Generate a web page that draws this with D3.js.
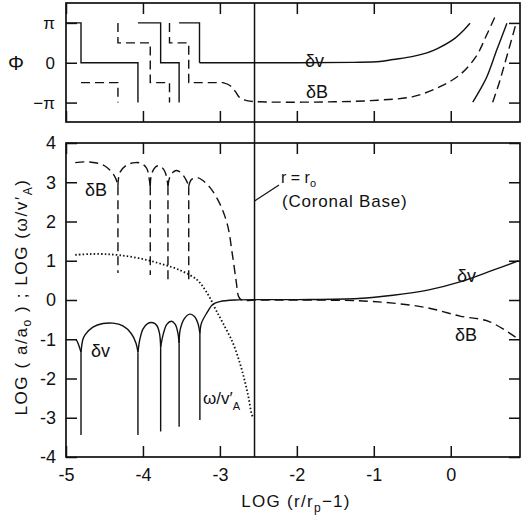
<!DOCTYPE html>
<html>
<head>
<meta charset="utf-8">
<script src="https://cdn.jsdelivr.net/npm/d3@7"></script>
<style>
  body { margin: 0; background: #fff; }
  svg { display: block; }
  text { font-family: "Liberation Sans", Arial, sans-serif; fill: #111; }
</style>
</head>
<body>
<svg id="chart"></svg>
<script>
const width = 521, height = 524;

// axes
const xTicks = [-5, -4, -3, -2, -1, 0];
const yTicks = [-4, -3, -2, -1, 0, 1, 2, 3, 4];
const phaseTicks = [-1, 0, 1];            // in units of pi
const phaseLabels = ["\u2212\u03c0", "0", "\u03c0"];
const coronalBase = -2.55;                // LOG(r0/rp - 1)

// lower panel, LOG(a/a0) for dv (solid): arches between nodes
const dvArches = [
  [[-4.87, -1.0], [-4.84, -1.12], [-4.805, -1.33]],
  [[-4.805, -1.33], [-4.78, -1.0], [-4.75, -0.88], [-4.65, -0.69], [-4.52, -0.6], [-4.39, -0.59], [-4.26, -0.66], [-4.15, -0.86], [-4.09, -1.1], [-4.065, -1.33]],
  [[-4.065, -1.33], [-4.04, -1.0], [-4.0, -0.74], [-3.94, -0.6], [-3.87, -0.58], [-3.82, -0.65], [-3.785, -0.85], [-3.77, -1.2]],
  [[-3.77, -1.2], [-3.74, -0.9], [-3.69, -0.62], [-3.63, -0.54], [-3.58, -0.62], [-3.545, -0.85], [-3.53, -1.1]],
  [[-3.53, -1.1], [-3.515, -0.75], [-3.46, -0.47], [-3.39, -0.36], [-3.33, -0.42], [-3.285, -0.6], [-3.26, -0.85]],
  [[-3.26, -0.85], [-3.24, -0.59], [-3.17, -0.33], [-3.09, -0.11], [-3.0, -0.04], [-2.8, 0], [-2.0, 0.01], [-1.2, 0.04], [-0.75, 0.12], [-0.3, 0.25], [0.12, 0.46], [0.55, 0.76], [0.88, 1.0]]
];
// node spikes: [x, cusp, bottom]
const dvNodes = [[-4.805, -1.33, -3.44], [-4.065, -1.33, -3.44], [-3.77, -1.2, -3.35], [-3.53, -1.1, -3.23], [-3.26, -0.85, -3.06]];

// lower panel, LOG(a/a0) for dB (dashed)
const dbArches = [
  [[-4.88, 3.5], [-4.75, 3.52], [-4.6, 3.49], [-4.5, 3.42], [-4.41, 3.27], [-4.35, 3.08], [-4.325, 2.9]],
  [[-4.325, 2.9], [-4.3, 3.25], [-4.21, 3.44], [-4.1, 3.5], [-4.02, 3.48], [-3.95, 3.35], [-3.92, 3.1], [-3.905, 2.9]],
  [[-3.905, 2.9], [-3.89, 3.2], [-3.84, 3.38], [-3.8, 3.42], [-3.75, 3.37], [-3.71, 3.25], [-3.685, 3.05], [-3.675, 2.9]],
  [[-3.675, 2.9], [-3.65, 3.14], [-3.6, 3.27], [-3.56, 3.3], [-3.5, 3.23], [-3.44, 3.06], [-3.405, 2.9]],
  [[-3.405, 2.9], [-3.37, 3.07], [-3.3, 3.12], [-3.24, 3.07], [-3.13, 2.87], [-3.0, 2.45], [-2.9, 1.9], [-2.84, 1.19], [-2.79, 0.5], [-2.755, 0.08], [-2.72, 0], [-2.5, 0], [-2.0, 0], [-1.2, -0.02], [-0.75, -0.08], [-0.3, -0.2], [0.12, -0.41], [0.5, -0.55], [0.88, -1.0]]
];
const dbNodes = [[-4.325, 2.9, 0.69], [-3.905, 2.9, 0.64], [-3.675, 2.9, 0.53], [-3.405, 2.9, 0.41]];

// LOG(omega / v'A) (dotted)
const omegaCurve = [[-4.88, 1.15], [-4.7, 1.17], [-4.5, 1.17], [-4.3, 1.14], [-4.04, 1.06], [-3.78, 0.93], [-3.52, 0.76], [-3.3, 0.52], [-3.2, 0.28], [-3.12, 0.02], [-3.05, -0.26], [-2.96, -0.59], [-2.83, -1.1], [-2.74, -1.61], [-2.68, -2.04], [-2.63, -2.46], [-2.59, -2.89], [-2.575, -2.97]];

// upper panel, phase (units of pi); steps are straight, the rest smooth
const phaseVSteps = [
  [[-5, 1], [-4.805, 1], [-4.805, 0], [-4.065, 0], [-4.065, -1]],
  [[-4.065, 1], [-3.77, 1], [-3.77, 0], [-3.53, 0], [-3.53, -1]],
  [[-3.53, 1], [-3.265, 1], [-3.265, 0]]
];
const phaseVSmooth = [
  [[-3.265, 0], [-2.0, 0], [-1.27, 0.01], [-0.92, 0.03], [-0.75, 0.08], [-0.49, 0.16], [-0.31, 0.25], [-0.18, 0.35], [0.03, 0.58], [0.18, 0.84], [0.25, 0.99]],
  [[0.286, -0.99], [0.38, -0.68], [0.47, -0.35], [0.6, 0.33], [0.73, 0.99]]
];
const phaseBSteps = [
  [[-4.805, -0.5], [-4.325, -0.5], [-4.325, -1]],
  [[-4.325, 1], [-4.325, 0.5], [-3.905, 0.5], [-3.905, -0.5], [-3.655, -0.5], [-3.655, -1]],
  [[-3.655, 1], [-3.655, 0.5], [-3.405, 0.5], [-3.405, -0.5], [-2.96, -0.5]]
];
const phaseBSmooth = [
  [[-2.96, -0.5], [-2.87, -0.57], [-2.8, -0.72], [-2.74, -0.88], [-2.65, -0.95], [-2.48, -0.98], [-1.5, -0.98], [-0.95, -0.94], [-0.49, -0.85], [-0.14, -0.6], [0.12, -0.3], [0.33, 0.16], [0.46, 0.67], [0.59, 1.22]],
  [[0.545, -0.99], [0.63, -0.5], [0.72, 0.1], [0.845, 0.96]]
];

const left = 66, right = 520;
const topPanel = { top: 3, bottom: 122 };
const lowPanel = { top: 143, bottom: 457 };

const x = d3.scaleLinear().domain([-5, 0.9]).range([left, right]);
const y = d3.scaleLinear().domain([-4, 4]).range([lowPanel.bottom, lowPanel.top]);
const yp = d3.scaleLinear().domain([-1.5, 1.5]).range([topPanel.bottom + 0.5, topPanel.top]);

const svg = d3.select('#chart')
    .attr('width', width)
    .attr('height', height)
    .attr('viewBox', [0, 0, width, height]);

const ink = '#111';
const tickLen = 11;

function styleAxis(g, size) {
  g.select('.domain').remove();
  g.selectAll('line').attr('stroke', ink).attr('stroke-width', 1.5);
  g.selectAll('text')
      .attr('font-family', '"Liberation Sans", Arial, sans-serif')
      .attr('font-size', size)
      .attr('fill', ink);
}

// ---- lower panel axes
svg.append('g')
    .attr('transform', `translate(0,${lowPanel.bottom})`)
    .call(d3.axisBottom(x).tickValues(xTicks).tickSize(-tickLen).tickPadding(11)
      .tickFormat(d => String(d)))
    .call(g => styleAxis(g, 18));
svg.append('g')
    .attr('transform', `translate(0,${lowPanel.top})`)
    .call(d3.axisTop(x).tickValues(xTicks).tickSize(-tickLen).tickFormat(''))
    .call(g => styleAxis(g, 18));
svg.append('g')
    .attr('transform', `translate(${left},0)`)
    .call(d3.axisLeft(y).tickValues(yTicks).tickSize(-tickLen).tickPadding(10)
      .tickFormat(d => String(d)))
    .call(g => styleAxis(g, 18));
svg.append('g')
    .attr('transform', `translate(${right},0)`)
    .call(d3.axisRight(y).tickValues(yTicks).tickSize(-tickLen).tickFormat(''))
    .call(g => styleAxis(g, 17));

// ---- upper panel axes
svg.append('g')
    .attr('transform', `translate(0,${topPanel.bottom})`)
    .call(d3.axisBottom(x).tickValues(xTicks).tickSize(-tickLen).tickFormat(''))
    .call(g => styleAxis(g, 17));
svg.append('g')
    .attr('transform', `translate(0,${topPanel.top})`)
    .call(d3.axisTop(x).tickValues(xTicks).tickSize(-tickLen).tickFormat(''))
    .call(g => styleAxis(g, 17));
svg.append('g')
    .attr('transform', `translate(${left},0)`)
    .call(d3.axisLeft(yp).tickValues(phaseTicks).tickSize(-tickLen).tickPadding(11)
      .tickFormat((d, i) => phaseLabels[i]))
    .call(g => styleAxis(g, 17));
svg.append('g')
    .attr('transform', `translate(${right},0)`)
    .call(d3.axisRight(yp).tickValues(phaseTicks).tickSize(-tickLen).tickFormat(''))
    .call(g => styleAxis(g, 17));

// frames
[topPanel, lowPanel].forEach(p => {
  svg.append('rect')
      .attr('x', left).attr('y', p.top)
      .attr('width', right - left).attr('height', p.bottom - p.top)
      .attr('fill', 'none').attr('stroke', ink).attr('stroke-width', 1.7);
});

// coronal base line through both panels
svg.append('line')
    .attr('x1', x(coronalBase)).attr('x2', x(coronalBase))
    .attr('y1', topPanel.top).attr('y2', lowPanel.bottom)
    .attr('stroke', ink).attr('stroke-width', 1.5);

const smooth = d3.line().x(d => x(d[0])).y(d => y(d[1])).curve(d3.curveCatmullRom.alpha(0.5));
const smoothP = d3.line().x(d => x(d[0])).y(d => yp(d[1])).curve(d3.curveCatmullRom.alpha(0.5));
const straightP = d3.line().x(d => x(d[0])).y(d => yp(d[1]));

const solid = { stroke: ink, width: 1.4, dash: null };
const dashed = { stroke: ink, width: 1.4, dash: '9,5' };

function draw(gen, data, st) {
  svg.append('path')
      .attr('d', gen(data))
      .attr('fill', 'none')
      .attr('stroke', st.stroke)
      .attr('stroke-width', st.width)
      .attr('stroke-dasharray', st.dash);
}

// lower panel curves
dvArches.forEach(a => draw(smooth, a, solid));
dvNodes.forEach(n => draw(smooth, [[n[0], n[1]], [n[0], n[2]]], solid));
dbArches.forEach(a => draw(smooth, a, dashed));
dbNodes.forEach(n => draw(smooth, [[n[0], n[1]], [n[0], n[2]]], dashed));
draw(smooth, omegaCurve, { stroke: ink, width: 1.8, dash: '1.5,2.2' });

// upper panel curves
phaseVSteps.forEach(s => draw(straightP, s, solid));
phaseVSmooth.forEach(s => draw(smoothP, s, solid));
phaseBSteps.forEach(s => draw(straightP, s, dashed));
phaseBSmooth.forEach(s => draw(smoothP, s, dashed));

// labels
function label(px, py, txt, size) {
  return svg.append('text').attr('x', px).attr('y', py)
      .attr('font-size', size).text(txt);
}
label(305, 67, '\u03b4v', 18);
label(306, 98, '\u03b4B', 18);
label(85, 196, '\u03b4B', 18);
label(91, 357, '\u03b4v', 18);
label(457, 282, '\u03b4v', 18);
label(455, 341, '\u03b4B', 18);
label(8, 70, '\u03a6', 20);

// omega / v'A
const om = svg.append('text').attr('x', 203).attr('y', 404).attr('font-size', 17);
om.append('tspan').text('\u03c9/v\u2032');
om.append('tspan').attr('font-size', 11).attr('dy', 6).text('A');

// coronal base note
svg.append('line')
    .attr('x1', x(coronalBase)).attr('y1', 201)
    .attr('x2', 279).attr('y2', 185)
    .attr('stroke', ink).attr('stroke-width', 1.2);
const r0 = svg.append('text').attr('x', 281).attr('y', 183).attr('font-size', 16);
r0.append('tspan').text('r = r');
r0.append('tspan').attr('font-size', 11).attr('dy', 4).text('o');
label(282, 207, '(Coronal Base)', 17).attr('letter-spacing', 0.8);

// x axis title
const xt = svg.append('text').attr('x', 296).attr('y', 507)
    .attr('text-anchor', 'middle').attr('font-size', 17).attr('letter-spacing', 1.3);
xt.append('tspan').text('LOG (r/r');
xt.append('tspan').attr('font-size', 12).attr('dy', 5).text('p');
xt.append('tspan').attr('dy', -5).text('\u22121)');

// y axis title
const yt = svg.append('text')
    .attr('transform', 'translate(27,297) rotate(-90)')
    .attr('text-anchor', 'middle').attr('font-size', 17).attr('letter-spacing', 1.6);
yt.append('tspan').text('LOG ( a/a');
yt.append('tspan').attr('font-size', 12).attr('dy', 4).text('o');
yt.append('tspan').attr('dy', -4).text(' ) ; LOG (\u03c9/v\u2032');
yt.append('tspan').attr('font-size', 12).attr('dy', 5).text('A');
yt.append('tspan').attr('dy', -5).text(')');
</script>
</body>
</html>
